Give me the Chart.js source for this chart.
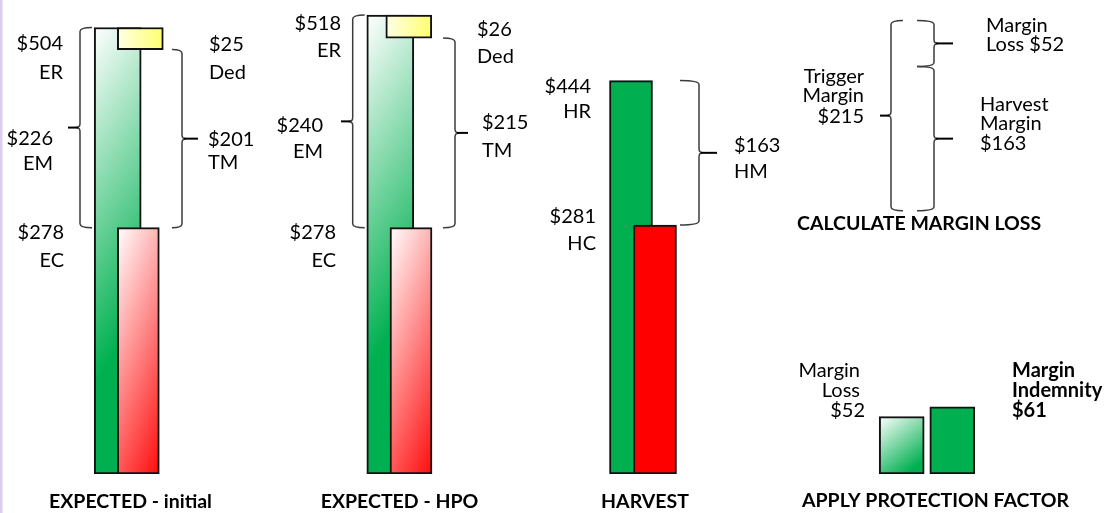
<!DOCTYPE html>
<html>
<head>
<meta charset="utf-8">
<script src="https://cdn.jsdelivr.net/npm/chart.js@4"></script>
<style>
  html, body { margin: 0; padding: 0; background: #fff; }
  #wrap { width: 1112px; height: 513px; }
</style>
</head>
<body>
<div id="wrap"><canvas id="marginChart" width="1112" height="513"></canvas></div>
<script>
// values
const stages = ["EXPECTED - initial", "EXPECTED - HPO", "HARVEST"];
const revenue = [504, 518, 444];
const revenueCodes = ["ER", "ER", "HR"];
const cost = [278, 278, 281];
const costCodes = ["EC", "EC", "HC"];
const margin = [226, 240, 163];
const marginCodes = ["EM", "EM", "HM"];
const deductible = [25, 26];
const triggerMargin = [201, 215];
const protection = ["Margin Loss", "Margin Indemnity"];
const protectionValues = [52, 61];
const stepTitles = ["CALCULATE MARGIN LOSS", "APPLY PROTECTION FACTOR"];

// layout only (x in canvas px, [center, width])
const barSlots = [
  { rev: [117.7, 47], cost: [138.3, 42], ded: [140.3, 46], fade: true },
  { rev: [390.3, 47], cost: [411, 42], ded: [408.8, 46], fade: true },
  { rev: [631, 43], cost: [655, 43], fade: false }
];
const protSlots = [[901.7, 45], [952.3, 45]];
const calcTop = 512; // where the margin-loss braces start, in $ on the y axis

const GREEN = "#00B050";
const RED = "#FF0000";

function paintBar(context) {
  const chart = context.chart;
  const ds = context.dataset;
  if (ds.paint === "green") return GREEN;
  if (ds.paint === "red") return RED;
  if (!chart.chartArea) return GREEN;
  const raw = ds.data[context.dataIndex];
  const xs = chart.scales.x;
  const ys = chart.scales[ds.yAxisID];
  const cx = xs.getPixelForValue(raw.x);
  const w = ds.barThickness;
  const left = cx - w / 2;
  const right = cx + w / 2;
  const top = ys.getPixelForValue(raw.y[1]);
  const bottom = ys.getPixelForValue(raw.y[0]);
  const h = bottom - top;
  const c = chart.ctx;
  let g;
  if (ds.paint === "greenFade") {
    if (h > 100) {
      g = c.createLinearGradient(left, top, left + 3.5 * w, top + 0.245 * h);
      g.addColorStop(0, "#FFFFFF");
      g.addColorStop(1, GREEN);
    } else {
      g = c.createLinearGradient(left, top, right, bottom);
      g.addColorStop(0, "#FFFFFF");
      g.addColorStop(0.85, GREEN);
      g.addColorStop(1, GREEN);
    }
  } else if (ds.paint === "redFade") {
    g = c.createLinearGradient(left, top, left + 2.95 * w, top + 0.19 * h);
    g.addColorStop(0, "#FFFFFF");
    g.addColorStop(1, RED);
  } else {
    g = c.createLinearGradient(left, 0, right, 0);
    g.addColorStop(0, "#FFFFE6");
    g.addColorStop(1, "#FFFF6E");
  }
  return g;
}

function makeBar(label, slot, range, paint, order, axis) {
  return {
    label: label,
    data: [{ x: slot[0], y: range }],
    barThickness: slot[1],
    paint: paint,
    yAxisID: axis || "y",
    order: order,
    stack: "all",
    backgroundColor: paintBar,
    borderColor: "#111",
    borderWidth: 2,
    borderSkipped: false
  };
}

const datasets = [];
stages.forEach((stage, i) => {
  const slot = barSlots[i];
  datasets.push(makeBar(revenueCodes[i], slot.rev, [0, revenue[i]], slot.fade ? "greenFade" : "green", 3));
  datasets.push(makeBar(costCodes[i], slot.cost, [0, cost[i]], slot.fade ? "redFade" : "red", 2));
  if (i < deductible.length) {
    datasets.push(makeBar("Ded", slot.ded, [revenue[i] - deductible[i], revenue[i]], "yellow", 1));
  }
});
protection.forEach((p, i) => {
  datasets.push(makeBar(p, protSlots[i], [0, protectionValues[i]], i === 0 ? "greenFade" : "green", 1, "y2"));
});

// brace: x = spine, hook = signed hook length, tip = x of the pointer end
function drawBrace(ctx, x, yTop, yBot, hook, tip) {
  const dir = Math.sign(hook);
  const r = 4;
  const mid = (yTop + yBot) / 2;
  ctx.save();
  ctx.strokeStyle = "#3c3c3c";
  ctx.lineWidth = 1.5;
  ctx.beginPath();
  ctx.moveTo(x + hook, yTop);
  ctx.quadraticCurveTo(x, yTop, x, yTop + r);
  ctx.lineTo(x, mid - r);
  ctx.quadraticCurveTo(x, mid, x - dir * r, mid);
  ctx.quadraticCurveTo(x, mid, x, mid + r);
  ctx.lineTo(x, yBot - r);
  ctx.quadraticCurveTo(x, yBot, x + hook, yBot);
  ctx.stroke();
  ctx.strokeStyle = "#000";
  ctx.lineWidth = 2;
  ctx.beginPath();
  ctx.moveTo(x - dir * 2, mid);
  ctx.lineTo(tip, mid);
  ctx.stroke();
  ctx.restore();
}

function put(ctx, text, x, y, align, bold, size) {
  ctx.font = (bold ? "bold " : "") + (size || 20) + "px Lato";
  ctx.textAlign = align;
  ctx.textBaseline = "alphabetic";
  ctx.fillStyle = "#000";
  ctx.fillText(text, x, y);
}

const stageText = [
  { rev: [63, 50, 79], margin: [53, 145, 170], cost: [64, 239, 267], ded: [209, 51, 79], tm: [208, 146, 169], title: 130.5 },
  { rev: [341, 30, 57], margin: [323, 132, 158], cost: [336, 239, 267], ded: [477, 36, 63], tm: [482, 129, 157], title: 399.5 },
  { rev: [591, 93, 118], margin: [734, 152, 178], cost: [596, 223, 250], title: 645 }
];
const stageBraces = [
  { em: [80, 12, 68], tm: [182, -10, 198] },
  { em: [352.7, 12, 341], tm: [455, -12, 468] },
  { hm: [699, -19, 717] }
];

const overlay = {
  id: "overlay",
  beforeDraw(chart) {
    const ctx = chart.ctx;
    ctx.save();
    ctx.fillStyle = "#DDCDEB";
    ctx.fillRect(0, 0, 2.5, chart.height);
    ctx.restore();
  },
  afterDatasetsDraw(chart) {
    const ctx = chart.ctx;
    const y = chart.scales.y;
    stages.forEach((stage, i) => {
      const b = stageBraces[i];
      const t = stageText[i];
      if (b.em) drawBrace(ctx, b.em[0], y.getPixelForValue(revenue[i]), y.getPixelForValue(cost[i]), b.em[1], b.em[2]);
      if (b.tm) drawBrace(ctx, b.tm[0], y.getPixelForValue(revenue[i] - deductible[i]), y.getPixelForValue(cost[i]), b.tm[1], b.tm[2]);
      if (b.hm) drawBrace(ctx, b.hm[0], y.getPixelForValue(revenue[i]), y.getPixelForValue(cost[i]), b.hm[1], b.hm[2]);

      const rightSideMargin = i === 2;
      put(ctx, "$" + revenue[i], t.rev[0], t.rev[1], "right");
      put(ctx, revenueCodes[i], t.rev[0], t.rev[2], "right");
      put(ctx, "$" + cost[i], t.cost[0], t.cost[1], "right");
      put(ctx, costCodes[i], t.cost[0], t.cost[2], "right");
      put(ctx, "$" + margin[i], t.margin[0], t.margin[1], rightSideMargin ? "left" : "right");
      put(ctx, marginCodes[i], t.margin[0], t.margin[2], rightSideMargin ? "left" : "right");
      if (t.ded) {
        put(ctx, "$" + deductible[i], t.ded[0], t.ded[1], "left");
        put(ctx, "Ded", t.ded[0], t.ded[2], "left");
        put(ctx, "$" + triggerMargin[i], t.tm[0], t.tm[1], "left");
        put(ctx, "TM", t.tm[0], t.tm[2], "left");
      }
      put(ctx, stage, t.title, 508, "center", true, 19.5);
    });

    // calculate margin loss
    const topY = y.getPixelForValue(calcTop);
    const splitY = y.getPixelForValue(calcTop - protectionValues[0]);
    const botY = y.getPixelForValue(calcTop - triggerMargin[1]);
    drawBrace(ctx, 891, topY, botY, 12, 880);
    drawBrace(ctx, 934, topY, splitY, -17, 953);
    drawBrace(ctx, 934, splitY, botY, -17, 953);
    put(ctx, "Margin", 986, 32, "left");
    put(ctx, "Loss $" + protectionValues[0], 986, 51, "left");
    put(ctx, "Trigger", 864, 83, "right");
    put(ctx, "Margin", 864, 102, "right");
    put(ctx, "$" + triggerMargin[1], 864, 123, "right");
    put(ctx, "Harvest", 980, 111, "left");
    put(ctx, "Margin", 980, 130, "left");
    put(ctx, "$" + margin[2], 980, 150, "left");
    put(ctx, stepTitles[0], 797, 230, "left", true, 19.5);

    // apply protection factor
    put(ctx, "Margin", 860, 377, "right");
    put(ctx, "Loss", 860, 397, "right");
    put(ctx, "$" + protectionValues[0], 865, 417, "right");
    put(ctx, "Margin", 1012, 377, "left", true);
    put(ctx, "Indemnity", 1012, 397, "left", true);
    put(ctx, "$" + protectionValues[1], 1012, 417, "left", true);
    put(ctx, stepTitles[1], 802, 507, "left", true, 19.5);
  }
};

new Chart(document.getElementById("marginChart"), {
  type: "bar",
  data: { datasets: datasets },
  options: {
    responsive: false,
    devicePixelRatio: 1,
    animation: false,
    layout: { padding: { left: 0, right: 0, top: 0, bottom: 39 } },
    plugins: { legend: { display: false }, tooltip: { enabled: false } },
    scales: {
      x: { type: "linear", min: 0, max: 1112, offset: false, stacked: true, display: false },
      y: { min: 0, max: 535, stacked: false, display: false },
      y2: { min: 0, max: 430, stacked: false, display: false }
    }
  },
  plugins: [overlay]
});
</script>
</body>
</html>
